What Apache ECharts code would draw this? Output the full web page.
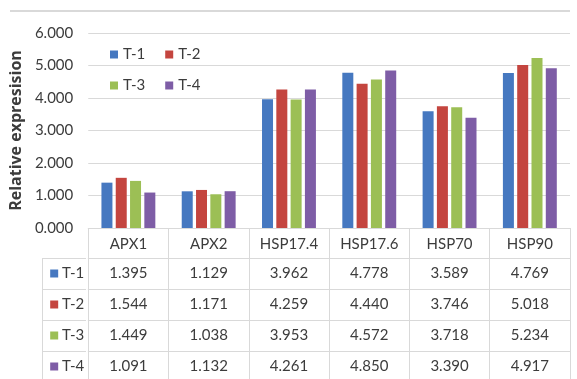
<!DOCTYPE html>
<html>
<head>
<meta charset="utf-8">
<script src="https://cdn.jsdelivr.net/npm/echarts@6/dist/echarts.min.js"></script>
<style>html,body{margin:0;padding:0;background:#fff;}#c{width:577px;height:379px;}</style>
</head>
<body>
<div id="c"></div>
<script>
const categories = ['APX1', 'APX2', 'HSP17.4', 'HSP17.6', 'HSP70', 'HSP90'];
const seriesNames = ['T-1', 'T-2', 'T-3', 'T-4'];
const t1 = [1.395, 1.129, 3.962, 4.778, 3.589, 4.769];
const t2 = [1.544, 1.171, 4.259, 4.440, 3.746, 5.018];
const t3 = [1.449, 1.038, 3.953, 4.572, 3.718, 5.234];
const t4 = [1.091, 1.132, 4.261, 4.850, 3.390, 4.917];
const yTicks = [0, 1, 2, 3, 4, 5, 6];
const colors = ['#4678C0', '#C4453F', '#9CBF55', '#7E5DA6'];

const values = [t1, t2, t3, t4];
const FONT = 'Lato';
const TXT = '#3c3c3c';
const LINE = '#d9d9d9';
const rowOffsets = [30, 61, 92, 123];

const chart = echarts.init(document.getElementById('c'), null, {renderer: 'canvas'});

const xAxes = [{
  type: 'category',
  data: categories,
  gridIndex: 0,
  position: 'bottom',
  axisLine: {show: true, lineStyle: {color: LINE, width: 1}},
  axisTick: {show: true, interval: 0, alignWithLabel: false, length: 151, lineStyle: {color: LINE}},
  axisLabel: {interval: 0, margin: 9, fontFamily: FONT, fontSize: 15, color: TXT}
}];
values.forEach((arr, i) => {
  xAxes.push({
    type: 'category',
    data: arr.map(v => v.toFixed(3)),
    gridIndex: 0,
    position: 'bottom',
    offset: rowOffsets[i],
    name: '{sq|} ' + seriesNames[i],
    nameLocation: 'start',
    nameGap: 4,
    nameTextStyle: {
      fontFamily: FONT, fontSize: 15, color: TXT,
      verticalAlign: 'top', padding: [8, 0, 0, 0],
      rich: {sq: {width: 8, height: 8, backgroundColor: colors[i]}}
    },
    axisLine: {show: true, lineStyle: {color: LINE, width: 1}},
    axisTick: {show: false},
    axisLabel: {interval: 0, margin: 8, fontFamily: FONT, fontSize: 15, color: TXT},
    splitLine: {show: false}
  });
});

const series = values.map((arr, i) => ({
  name: seriesNames[i],
  type: 'bar',
  xAxisIndex: 0,
  data: arr,
  barWidth: 11,
  barGap: '30%',
  itemStyle: {color: colors[i]}
}));

const legendCommon = {
  icon: 'rect', itemWidth: 8, itemHeight: 8, itemGap: 20,
  orient: 'horizontal',
  textStyle: {fontFamily: FONT, fontSize: 15, color: TXT}
};

chart.setOption({
  animation: false,
  backgroundColor: '#fff',
  textStyle: {fontFamily: FONT},
  grid: {left: 86, right: 7, top: 33, bottom: 151, containLabel: false},
  legend: [
    Object.assign({}, legendCommon, {data: seriesNames.slice(0, 2), left: 105, top: 42}),
    Object.assign({}, legendCommon, {data: seriesNames.slice(2, 4), left: 105, top: 73})
  ],
  xAxis: xAxes,
  yAxis: {
    type: 'value',
    min: yTicks[0], max: yTicks[yTicks.length - 1], interval: 1,
    name: 'Relative expresision',
    nameLocation: 'middle',
    nameGap: 53,
    nameRotate: 90,
    nameTextStyle: {fontFamily: 'Open Sans', fontSize: 16, color: TXT, fontWeight: 'bold'},
    axisLine: {show: false},
    axisTick: {show: false},
    axisLabel: {margin: 15, fontFamily: FONT, fontSize: 15, color: TXT, formatter: v => v.toFixed(3)},
    splitLine: {lineStyle: {color: LINE, width: 1}}
  },
  graphic: [
    {type: 'line', shape: {x1: 10, y1: 11, x2: 570, y2: 11}, style: {stroke: LINE, lineWidth: 2}},
    {type: 'line', shape: {x1: 42.5, y1: 258, x2: 42.5, y2: 379}, style: {stroke: LINE, lineWidth: 1}},
    {type: 'line', shape: {x1: 42, y1: 258.5, x2: 86, y2: 258.5}, style: {stroke: LINE, lineWidth: 1}},
    {type: 'line', shape: {x1: 42, y1: 289.5, x2: 86, y2: 289.5}, style: {stroke: LINE, lineWidth: 1}},
    {type: 'line', shape: {x1: 42, y1: 320.5, x2: 86, y2: 320.5}, style: {stroke: LINE, lineWidth: 1}},
    {type: 'line', shape: {x1: 42, y1: 351.5, x2: 86, y2: 351.5}, style: {stroke: LINE, lineWidth: 1}}
  ],
  series: series
});
</script>
</body>
</html>
